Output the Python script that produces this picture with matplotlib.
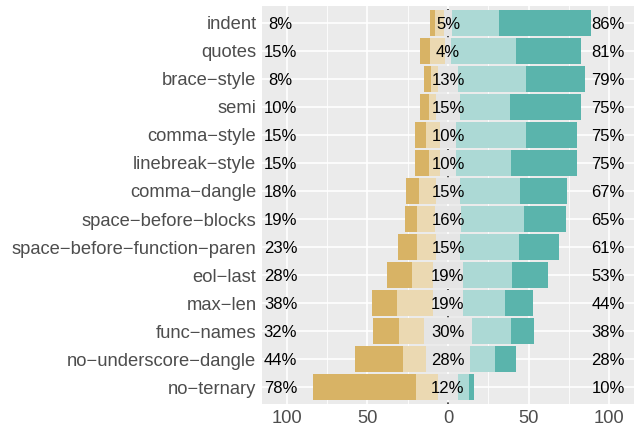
import numpy as np
import matplotlib
matplotlib.use("Agg")
import matplotlib.pyplot as plt

plt.rcParams['font.family'] = ['Liberation Sans', 'DejaVu Sans']

# rules, top to bottom (minus signs as in the rendered labels)
rules = ["indent", "quotes", "brace\u2212style", "semi", "comma\u2212style",
         "linebreak\u2212style", "comma\u2212dangle", "space\u2212before\u2212blocks",
         "space\u2212before\u2212function\u2212paren", "eol\u2212last", "max\u2212len",
         "func\u2212names", "no\u2212underscore\u2212dangle", "no\u2212ternary"]

# percentage of answers per level
strongly_disagree = [3.0, 6.2, 4.3, 6.0, 6.8, 8.7, 8.0, 7.9, 11.7, 15.3, 15.4, 16.6, 30.2, 63.6]
disagree = [5.4, 9.2, 4.1, 4.3, 8.5, 6.6, 10.4, 11.3, 11.6, 12.9, 22.3, 15.3, 13.7, 14.2]
neutral = [5.3, 3.6, 12.7, 14.6, 9.8, 9.8, 14.8, 15.6, 15.3, 18.9, 18.6, 29.8, 27.9, 11.9]
agree = [29.2, 40.2, 42.2, 31.0, 43.4, 34.0, 37.6, 39.6, 36.5, 30.0, 26.2, 24.1, 15.3, 7.3]
strongly_agree = [57.1, 40.8, 36.7, 44.1, 31.5, 40.9, 29.2, 25.6, 24.9, 22.9, 17.5, 14.2, 12.9, 3.0]

xticks = [-100, -50, 0, 50, 100]

colors = ["#D8B365", "#EBD9B2", "#E5E5E5", "#ACD9D5", "#5AB4AC"]

sd = np.array(strongly_disagree)
d = np.array(disagree)
n = np.array(neutral)
a = np.array(agree)
sa = np.array(strongly_agree)
y = np.arange(len(rules))[::-1]

fig = plt.figure(figsize=(6.34, 4.28), dpi=100)
ax = fig.add_axes([262 / 634, 24 / 428, 372 / 634, 398 / 428])
ax.set_facecolor("#EBEBEB")
for s in ax.spines.values():
    s.set_visible(False)

# grid
for v in [-75, -25, 25, 75]:
    ax.axvline(v, color="white", lw=0.6, zorder=0)
for v in xticks:
    ax.axvline(v, color="white", lw=1.2, zorder=0)
for yy in y:
    ax.axhline(yy, color="white", lw=1.2, zorder=0)
ax.axvline(0, color="#333333", lw=1.2, ls=(0, (1, 3)), zorder=0.5)

h = 0.92
ax.barh(y, sd, left=-n / 2 - d - sd, height=h, color=colors[0], zorder=1)
ax.barh(y, d, left=-n / 2 - d, height=h, color=colors[1], zorder=1)
ax.barh(y, n, left=-n / 2, height=h, color=colors[2], zorder=1)
ax.barh(y, a, left=n / 2, height=h, color=colors[3], zorder=1)
ax.barh(y, sa, left=n / 2 + a, height=h, color=colors[4], zorder=1)

fs = 13.2
pfs = 12
for i in range(len(rules)):
    ax.text(-104, y[i], "%d%%" % round(sd[i] + d[i]), ha="center", va="center_baseline", fontsize=pfs, zorder=3)
    ax.text(0, y[i], "%d%%" % round(n[i]), ha="center", va="center_baseline", fontsize=pfs, zorder=3)
    ax.text(99.5, y[i], "%d%%" % round(a[i] + sa[i]), ha="center", va="center_baseline", fontsize=pfs, zorder=3)

ax.set_xlim(-115.5, 115.5)
ax.set_ylim(-0.6, len(rules) - 0.4)
ax.set_xticks(xticks)
ax.set_xticklabels([str(abs(v)) for v in xticks])
ax.set_yticks(y)
ax.set_yticklabels(rules, va="center_baseline")
ax.tick_params(axis="both", length=0, labelsize=fs, labelcolor="#4D4D4D")
ax.tick_params(axis="x", pad=4)
ax.tick_params(axis="y", pad=4)

fig.savefig("out.png", dpi=100)
